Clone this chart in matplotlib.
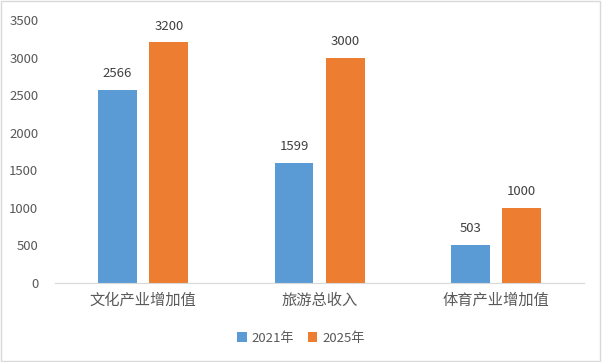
import matplotlib
matplotlib.use("Agg")
import matplotlib.pyplot as plt
import numpy as np
from matplotlib.patches import Rectangle

plt.rcParams['font.family'] = ['Noto Sans CJK SC', 'DejaVu Sans']

categories = ["文化产业增加值", "旅游总收入", "体育产业增加值"]
series_names = ["2021年", "2025年"]
values_2021 = [2566, 1599, 503]
values_2025 = [3200, 3000, 1000]
colors = ["#5B9BD5", "#ED7D31"]
text_color = "#595959"

fig = plt.figure(figsize=(6.02, 3.62), dpi=100)
ax = fig.add_axes([0.0914, 0.218, 0.879, 0.727])

x = np.arange(len(categories))
w = 0.22
off = 0.145
b1 = ax.bar(x - off, values_2021, w, color=colors[0], label=series_names[0])
b2 = ax.bar(x + off, values_2025, w, color=colors[1], label=series_names[1])
for bars in (b1, b2):
    for r in bars:
        ax.text(r.get_x() + r.get_width() / 2, r.get_height() + 130, f"{int(r.get_height())}",
                ha="center", va="bottom", fontsize=9.5, color="#404040")

ax.set_xlim(-0.5, 2.5)
ax.set_ylim(0, 3500)
ax.set_yticks(np.arange(0, 3501, 500))
ax.tick_params(axis="y", length=0, labelsize=9.5, colors=text_color, pad=12)
ax.tick_params(axis="x", length=0, labelsize=11, colors=text_color, pad=6)
ax.set_xticks(x)
ax.set_xticklabels(categories)
for s in ["top", "right", "left"]:
    ax.spines[s].set_visible(False)
ax.spines["bottom"].set_color("#D9D9D9")

leg = fig.legend(loc="lower center", bbox_to_anchor=(0.5, 0.015), ncol=2, frameon=False,
                 fontsize=9.5, handlelength=0.7, handleheight=0.7, handletextpad=0.4, columnspacing=1.0)
for t in leg.get_texts():
    t.set_color(text_color)

fig.patches.append(Rectangle((0.002, 0.003), 0.995, 0.993, transform=fig.transFigure,
                             fill=False, edgecolor="#D9D9D9", linewidth=1))

fig.savefig("out.png", dpi=100)
